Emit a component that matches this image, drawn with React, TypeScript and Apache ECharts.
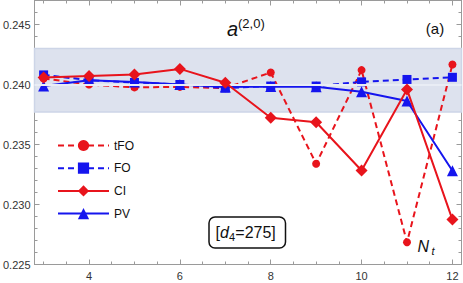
import React, { useEffect, useRef } from 'react';
import * as echarts from 'echarts';

const nt = [3, 4, 5, 6, 7, 8, 9, 10, 11, 12];
const tFO = [0.2405, 0.2400, 0.23976, 0.2398, 0.2397, 0.2410, 0.2334, 0.2412, 0.22685, 0.24167];
const FO = [0.2408, 0.24036, 0.24017, 0.2400, 0.2397, 0.23987, 0.23987, 0.24022, 0.24042, 0.2406];
const CI = [0.24059, 0.2407, 0.24084, 0.2413, 0.24014, 0.23723, 0.23685, 0.23283, 0.23959, 0.22874];
const PV = [0.23987, 0.24036, 0.2402, 0.2400, 0.2398, 0.23983, 0.23981, 0.2394, 0.23862, 0.23281];
const band = [0.2377, 0.2430];
const bandCenter = 0.24035;
const xMajor = [4, 6, 8, 10, 12];
const xMinor = [3, 3.5, 4, 4.5, 5, 5.5, 6, 6.5, 7, 7.5, 8, 8.5, 9, 9.5, 10, 10.5, 11, 11.5, 12];
const yMajor = [0.225, 0.23, 0.235, 0.24, 0.245];
const yMinor = [0.226, 0.227, 0.228, 0.229, 0.231, 0.232, 0.233, 0.234, 0.236, 0.237, 0.238, 0.239, 0.241, 0.242, 0.243, 0.244, 0.246, 0.247];

const RED = '#e8141c';
const BLUE = '#1515ee';
const AXIS = '#9a9a9a';

const pairs = (ys: number[]) => ys.map((y, i) => [nt[i], y]);

export default function App() {
  const ref = useRef<HTMLDivElement>(null);
  useEffect(() => {
    if (!ref.current) return;
    const chart = echarts.init(ref.current, undefined, { renderer: 'svg' });
    const xBase = { type: 'value', min: 2.8, max: 12.2, splitLine: { show: false }, axisLine: { show: true, onZero: false, lineStyle: { color: AXIS, width: 1 } } };
    const yBase = { type: 'value', min: 0.225, max: 0.247, splitLine: { show: false }, axisLine: { show: true, onZero: false, lineStyle: { color: AXIS, width: 1 } } };
    const majorTick = (vals: number[], len: number) => ({ show: true, inside: true, length: len, customValues: vals, lineStyle: { color: AXIS, width: 1 } });
    const noLabel = { show: false };
    const option: any = {
      animation: false,
      grid: { left: 32.3, right: 1.5, top: 0.5, bottom: 18.5 },
      xAxis: [
        { ...xBase, position: 'bottom', axisTick: majorTick(xMajor, 5), axisLabel: { show: true, customValues: xMajor, margin: 6, fontSize: 11, color: '#333', fontFamily: 'Liberation Sans, Arial' } },
        { ...xBase, position: 'bottom', axisTick: majorTick(xMinor, 3), axisLabel: noLabel },
        { ...xBase, position: 'top', axisTick: majorTick(xMajor, 5), axisLabel: noLabel },
        { ...xBase, position: 'top', axisTick: majorTick(xMinor, 3), axisLabel: noLabel },
      ],
      yAxis: [
        { ...yBase, position: 'left', axisTick: majorTick(yMajor, 5), axisLabel: { show: true, customValues: yMajor, margin: 4, fontSize: 11, color: '#333', fontFamily: 'Liberation Sans, Arial', formatter: (v: number) => v.toFixed(3) } },
        { ...yBase, position: 'left', axisTick: majorTick(yMinor, 3), axisLabel: noLabel },
        { ...yBase, position: 'right', axisTick: majorTick(yMajor, 5), axisLabel: noLabel },
        { ...yBase, position: 'right', axisTick: majorTick(yMinor, 3), axisLabel: noLabel },
      ],
      legend: {
        orient: 'vertical',
        left: 57,
        top: 139.5,
        padding: 0,
        itemWidth: 51,
        itemHeight: 14,
        itemGap: 10.7,
        itemStyle: {},
        textStyle: { fontSize: 12, color: '#111', fontFamily: 'Liberation Sans, Arial' },
        data: ['tFO', 'FO', 'CI', 'PV'],
      },
      series: [
        {
          name: 'band',
          type: 'line',
          data: [],
          z: 1,
          markArea: {
            silent: true,
            itemStyle: { color: '#dde2ee', borderColor: '#cdd5e7', borderWidth: 1.5 },
            data: [[{ yAxis: band[0] }, { yAxis: band[1] }]],
          },
          markLine: {
            silent: true,
            symbol: 'none',
            label: { show: false },
            lineStyle: { color: '#e9edf5', width: 2, type: 'solid' },
            data: [{ yAxis: bandCenter }],
          },
        },
        {
          name: 'tFO', type: 'line', z: 3, data: pairs(tFO), symbol: 'circle', symbolSize: 8,
          lineStyle: { color: RED, width: 2, type: [6, 4] }, itemStyle: { color: RED },
        },
        {
          name: 'FO', type: 'line', z: 4, data: pairs(FO), symbol: 'rect', symbolSize: 9,
          lineStyle: { color: BLUE, width: 2, type: [6, 4] }, itemStyle: { color: BLUE },
        },
        {
          name: 'PV', type: 'line', z: 4, data: pairs(PV), symbol: 'triangle', symbolSize: 11,
          lineStyle: { color: BLUE, width: 2 }, itemStyle: { color: BLUE },
        },
        {
          name: 'CI', type: 'line', z: 5, data: pairs(CI), symbol: 'diamond', symbolSize: 12,
          lineStyle: { color: RED, width: 2 }, itemStyle: { color: RED },
        },
      ],
      graphic: [
        { type: 'text', x: 227, y: 29, style: { text: 'a', font: 'italic 20px "Liberation Sans", Arial', fill: '#111', verticalAlign: 'middle' } },
        { type: 'text', x: 238, y: 23, style: { text: '(2,0)', font: '13px "Liberation Sans", Arial', fill: '#111', verticalAlign: 'middle' } },
        { type: 'text', x: 435, y: 28.5, style: { text: '(a)', font: '15px "Liberation Sans", Arial', fill: '#111', align: 'center', verticalAlign: 'middle' } },
        { type: 'text', x: 417.5, y: 246, style: { text: 'N', font: 'italic 16px "Liberation Sans", Arial', fill: '#111', verticalAlign: 'middle' } },
        { type: 'text', x: 431.5, y: 251, style: { text: 't', font: 'italic 11px "Liberation Sans", Arial', fill: '#111', verticalAlign: 'middle' } },
        { type: 'rect', shape: { x: 209, y: 217, width: 76.5, height: 31, r: 6 }, style: { fill: '#fff', stroke: '#111', lineWidth: 1.5 }, z: 10 },
        { type: 'text', x: 215.5, y: 232, z: 11, style: { text: '[', font: '16px "Liberation Sans", Arial', fill: '#111', verticalAlign: 'middle' } },
        { type: 'text', x: 220, y: 232, z: 11, style: { text: 'd', font: 'italic 16px "Liberation Sans", Arial', fill: '#111', verticalAlign: 'middle' } },
        { type: 'text', x: 229, y: 237, z: 11, style: { text: '4', font: '11px "Liberation Sans", Arial', fill: '#111', verticalAlign: 'middle' } },
        { type: 'text', x: 235.3, y: 232, z: 11, style: { text: '=275]', font: '16px "Liberation Sans", Arial', fill: '#111', verticalAlign: 'middle' } },
      ],
    };
    chart.setOption(option);
    return () => chart.dispose();
  }, []);
  return <div ref={ref} style={{ position: 'absolute', left: 0, top: 0, width: 463, height: 283 }} />;
}
